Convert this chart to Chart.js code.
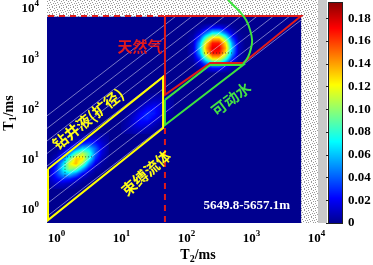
<!DOCTYPE html>
<html>
<head>
<meta charset="utf-8">
<script src="https://cdn.jsdelivr.net/npm/chart.js@4.4.1/dist/chart.umd.min.js"></script>
<style>
  html, body { margin: 0; padding: 0; background: #fff; }
  #wrap { width: 373px; height: 265px; position: relative; }
</style>
</head>
<body>
<div id="wrap"><canvas id="t1t2"></canvas></div>
<script>
// axis limits (ms)
const T2_LIMITS = [0.714, 10500];
const T1_LIMITS = [0.526, 14400];
const DECADES = [1, 10, 100, 1000, 10000];

// colour scale
const CB_TICKS = [0, 0.02, 0.04, 0.06, 0.08, 0.1, 0.12, 0.14, 0.16, 0.18];
const CB_LIMITS = [0, 0.196];
const COLOR_MAX = 0.193;

// extent of the inverted T1-T2 map
const MAP_T2 = [0.714, 5780];
const MAP_T1 = [0.526, 6700];

// amplitude on a log10 grid (step 0.1 decade),
// first row = highest T1, first column = lowest T2
const GRID_STEP = 0.1;
const LOW_PEAK_ORIGIN = [-0.1, 1.5];
const LOW_PEAK = [
  [0, 0, 0, 0, 0, .002, .003, .004, .003, .002],
  [0, 0, 0, 0, .003, .008, .012, .013, .008, .004],
  [0, 0, .001, .005, .014, .027, .034, .027, .014, .005],
  [0, .001, .005, .018, .043, .066, .064, .041, .017, .004],
  [0, .004, .017, .048, .090, .109, .085, .042, .014, .003],
  [.002, .011, .039, .089, .132, .126, .078, .031, .008, .001],
  [.005, .022, .063, .115, .135, .101, .049, .016, .003, 0],
  [.009, .032, .071, .102, .095, .057, .022, .005, .001, 0],
  [.012, .032, .056, .064, .047, .022, .007, .001, 0, 0],
  [.010, .022, .031, .028, .016, .006, .002, 0, 0, 0],
  [.006, .011, .012, .008, .004, .001, 0, 0, 0, 0],
  [.003, .004, .003, .002, 0, 0, 0, 0, 0, 0],
];
const FAINT_ORIGIN = [1.0, 2.3];
const FAINT = [
  [0, 0, 0, 0, .001, .002, .003, .003, .002],
  [0, 0, 0, .001, .004, .007, .008, .006, .003],
  [0, 0, .001, .005, .011, .015, .014, .008, .003],
  [0, .001, .004, .012, .021, .024, .017, .008, .002],
  [.001, .003, .010, .021, .029, .026, .015, .005, .001],
  [.001, .005, .015, .025, .028, .019, .009, .002, 0],
  [.002, .007, .015, .021, .018, .010, .003, .001, 0],
  [.003, .007, .011, .012, .008, .004, .001, 0, 0],
  [.002, .004, .006, .005, .003, .001, 0, 0, 0],
];
const HIGH_PEAK_ORIGIN = [2.0, 3.7];
const HIGH_PEAK = [
  [0, 0, 0, 0, 0, 0, 0, 0, 0, 0],
  [0, 0, .004, .013, .024, .024, .013, .004, 0, 0],
  [0, .002, .014, .043, .071, .071, .043, .014, .002, 0],
  [0, .006, .033, .088, .130, .130, .088, .033, .006, 0],
  [0, .010, .053, .125, .167, .167, .125, .053, .010, 0],
  [0, .011, .061, .138, .176, .176, .138, .061, .011, 0],
  [0, .010, .053, .125, .167, .167, .125, .053, .010, 0],
  [0, .006, .033, .088, .130, .130, .088, .033, .006, 0],
  [0, .002, .014, .043, .071, .071, .043, .014, .002, 0],
  [0, 0, .004, .013, .024, .024, .013, .004, 0, 0],
  [0, 0, 0, 0, 0, 0, 0, 0, 0, 0],
];

// T1/T2 guide lines
const RATIO_LINES = [1, 1.78, 3.16, 5.62, 10, 17.8, 31.6, 56.2, 100];

// fluid zones (T2, T1 in ms)
const YELLOW_T2 = [0.74, 43.5, 43.5, 0.74, 0.74];
const YELLOW_T1 = [6.25, 424, 40.9, 0.6, 6.25];
const GREEN_T2 = [46.5, 230, 740, 46.5, 46.5];
const GREEN_T1 = [148, 735, 735, 47, 148];
const RED_T2 = [46.5, 5780, 740, 230, 46.5, 46.5];
const RED_T1 = [6900, 6900, 800, 800, 186, 6900];
const RED_TOP_DASH_T2 = [0.74, 46.5];
const RED_TOP_DASH_T1 = [6900, 6900];
const RED_CUT_DASH_T2 = [46.5, 46.5];
const RED_CUT_DASH_T1 = [41, 0.526];
const GREEN_CURVE_T2 = [740, 883, 982, 1018, 948, 823, 665, 519, 435];
const GREEN_CURVE_T1 = [760, 1059, 1600, 2307, 3650, 5770, 8320, 11480, 14420];
const LOW_MARK_T2 = [3.52, 1.35, 1.35];
const LOW_MARK_T1 = [10.9, 10.9, 4.14];
const HIGH_MARK_T2 = [500, 179];
const HIGH_MARK_T1 = [1270, 1270];

const DEPTH_LABEL = '5649.8-5657.1m';

const notes = [
  { text: '天然气', t2: 19.3, t1: 1750, angle: 0, color: '#e3191c' },
  { text: '钻井液(扩径)', t2: 3.05, t1: 62, angle: -39, color: '#ffff14' },
  { text: '束缚流体', t2: 23.8, t1: 5.2, angle: -41, color: '#ffff14' },
  { text: '可动水', t2: 484, t1: 155, angle: -37, color: '#44e044' },
];

const serif = (size) => `bold ${size}px "Liberation Serif", "Times New Roman", serif`;
const CJK = 'bold 15px "Noto Sans CJK SC", sans-serif';

function jet(v) {
  const f = 1 / 64 + Math.min(Math.max(v, 0), 1) * 62 / 64;
  const ch = (c) => Math.round(255 * Math.min(Math.max(1.5 - Math.abs(4 * f - c), 0), 1));
  return [ch(3), ch(2), ch(1)];
}
const jetCss = (v) => `rgb(${jet(v).join(',')})`;

function sample(rows, fr, fc) {
  const nr = rows.length;
  const nc = rows[0].length;
  fr = Math.min(Math.max(fr, 0), nr - 1);
  fc = Math.min(Math.max(fc, 0), nc - 1);
  const r0 = Math.min(Math.floor(fr), nr - 2);
  const c0 = Math.min(Math.floor(fc), nc - 2);
  const tr = fr - r0;
  const tc = fc - c0;
  const top = rows[r0][c0] * (1 - tc) + rows[r0][c0 + 1] * tc;
  const bot = rows[r0 + 1][c0] * (1 - tc) + rows[r0 + 1][c0 + 1] * tc;
  return top * (1 - tr) + bot * tr;
}

function drawPatch(ctx, xs, ys, origin, rows) {
  const nr = rows.length;
  const nc = rows[0].length;
  const xa = xs.getPixelForValue(10 ** origin[0]);
  const xb = xs.getPixelForValue(10 ** (origin[0] + (nc - 1) * GRID_STEP));
  const ya = ys.getPixelForValue(10 ** origin[1]);
  const yb = ys.getPixelForValue(10 ** (origin[1] - (nr - 1) * GRID_STEP));
  const px0 = Math.floor(xa);
  const py0 = Math.floor(ya);
  const w = Math.ceil(xb) - px0;
  const h = Math.ceil(yb) - py0;
  const off = document.createElement('canvas');
  off.width = w;
  off.height = h;
  const octx = off.getContext('2d');
  const img = octx.createImageData(w, h);
  for (let j = 0; j < h; j++) {
    const fr = (py0 + j + 0.5 - ya) / (yb - ya) * (nr - 1);
    for (let i = 0; i < w; i++) {
      const fc = (px0 + i + 0.5 - xa) / (xb - xa) * (nc - 1);
      const [r, g, b] = jet(sample(rows, fr, fc) / COLOR_MAX);
      const k = (j * w + i) * 4;
      img.data[k] = r;
      img.data[k + 1] = g;
      img.data[k + 2] = b;
      img.data[k + 3] = 255;
    }
  }
  octx.putImageData(img, 0, 0);
  ctx.drawImage(off, px0, py0);
}

function stipple(ctx) {
  const c = document.createElement('canvas');
  c.width = 7;
  c.height = 7;
  const g = c.getContext('2d');
  g.fillStyle = '#fff';
  g.fillRect(0, 0, 7, 7);
  g.fillStyle = '#9a9a9a';
  [[0, 0], [3, 0], [5, 1], [1, 2], [4, 3], [6, 3], [2, 4], [0, 5], [5, 5], [3, 6]]
    .forEach(([a, b]) => g.fillRect(a, b, 1, 1));
  return ctx.createPattern(c, 'repeat');
}

const mapLayer = {
  id: 'mapLayer',
  beforeDatasetsDraw(chart) {
    const { ctx, chartArea: a, scales } = chart;
    const { x, y, cb } = scales;
    ctx.save();
    // grey strip between axes and colour bar
    ctx.fillStyle = '#c9c9c9';
    ctx.fillRect(a.right, a.top, 9, a.bottom - a.top);

    ctx.fillStyle = stipple(ctx);
    ctx.fillRect(a.left, a.top, a.right - a.left, a.bottom - a.top);

    const mx0 = x.getPixelForValue(MAP_T2[0]);
    const mx1 = x.getPixelForValue(MAP_T2[1]);
    const my0 = y.getPixelForValue(MAP_T1[1]);
    const my1 = y.getPixelForValue(MAP_T1[0]);
    ctx.fillStyle = jetCss(0);
    ctx.fillRect(mx0, my0, mx1 - mx0, my1 - my0);
    drawPatch(ctx, x, y, LOW_PEAK_ORIGIN, LOW_PEAK);
    drawPatch(ctx, x, y, FAINT_ORIGIN, FAINT);
    drawPatch(ctx, x, y, HIGH_PEAK_ORIGIN, HIGH_PEAK);

    // colour bar
    const barLeft = cb.left + 11;
    const top = cb.getPixelForValue(COLOR_MAX);
    const bottom = cb.getPixelForValue(0);
    for (let py = Math.floor(top); py < bottom; py++) {
      ctx.fillStyle = jetCss(cb.getValueForPixel(py + 0.5) / COLOR_MAX);
      ctx.fillRect(barLeft, py, 13, 1);
    }
    ctx.strokeStyle = '#222';
    ctx.lineWidth = 1;
    ctx.strokeRect(barLeft - 0.5, Math.floor(top) - 0.5, 14, bottom - Math.floor(top) + 1);
    ctx.fillStyle = '#222';
    CB_TICKS.forEach((v) => {
      const py = Math.round(cb.getPixelForValue(v));
      ctx.fillRect(barLeft - 3, py, 3, 1);
    });
    ctx.restore();
  },
  afterDatasetsDraw(chart) {
    const { ctx, chartArea: a, scales: { x, y } } = chart;
    ctx.save();
    ctx.beginPath();
    ctx.rect(a.left, a.top, a.right - a.left, a.bottom - a.top);
    ctx.clip();
    ctx.font = CJK;
    ctx.textAlign = 'center';
    ctx.textBaseline = 'middle';
    notes.forEach((n) => {
      ctx.save();
      ctx.translate(x.getPixelForValue(n.t2), y.getPixelForValue(n.t1));
      ctx.rotate(n.angle * Math.PI / 180);
      ctx.fillStyle = n.color;
      ctx.fillText(n.text, 0, 0);
      ctx.restore();
    });
    ctx.font = serif(13);
    ctx.fillStyle = '#fff';
    ctx.textAlign = 'right';
    ctx.fillText(DEPTH_LABEL, x.getPixelForValue(3910), y.getPixelForValue(1.15));
    ctx.restore();
  },
  afterDraw(chart) {
    const { ctx, scales: { x, y } } = chart;
    ctx.save();
    ctx.fillStyle = '#000';
    ctx.textBaseline = 'alphabetic';
    ctx.textAlign = 'left';
    const pow = (exp, px, baseY, centered) => {
      ctx.font = serif(13);
      const wb = ctx.measureText('10').width;
      ctx.font = serif(9);
      const we = ctx.measureText(exp).width;
      const left = centered ? px - (wb + we) / 2 : px - wb - we;
      ctx.font = serif(13);
      ctx.fillText('10', left, baseY);
      ctx.font = serif(9);
      ctx.fillText(exp, left + wb, baseY - 6);
    };
    DECADES.forEach((d) => {
      const e = String(Math.round(Math.log10(d)));
      pow(e, x.getPixelForValue(d), 242, true);
      pow(e, 39, y.getPixelForValue(d) + 4.5, false);
    });

    const title = (sub, cx, baseY) => {
      ctx.font = serif(14);
      const wT = ctx.measureText('T').width;
      const wm = ctx.measureText('/ms').width;
      ctx.font = serif(10);
      const ws = ctx.measureText(sub).width;
      const left = cx - (wT + ws + wm) / 2;
      ctx.font = serif(14);
      ctx.fillText('T', left, baseY);
      ctx.font = serif(10);
      ctx.fillText(sub, left + wT, baseY + 3);
      ctx.font = serif(14);
      ctx.fillText('/ms', left + wT + ws, baseY);
    };
    title('2', 198, 259);
    ctx.translate(13, 113);
    ctx.rotate(-Math.PI / 2);
    title('1', 0, 0);
    ctx.restore();
  },
};

const pts = (t2, t1) => t2.map((v, i) => ({ x: v, y: t1[i] }));
const zone = (t2, t1, color, order, extra = {}) => ({
  data: pts(t2, t1),
  showLine: true,
  borderColor: color,
  borderWidth: 2,
  pointRadius: 0,
  fill: false,
  tension: 0,
  order,
  ...extra,
});

const guideSets = RATIO_LINES.map((r) => {
  const a = Math.max(MAP_T2[0], MAP_T1[0] / r);
  const b = Math.min(MAP_T2[1], MAP_T1[1] / r);
  return zone([a, b], [a * r, b * r], 'rgba(235,235,255,0.5)', 50, { borderWidth: 1 });
}).filter((d) => d.data[0].x < d.data[1].x);

new Chart(document.getElementById('t1t2'), {
  type: 'scatter',
  data: {
    datasets: [
      ...guideSets,
      zone(LOW_MARK_T2, LOW_MARK_T1, 'rgba(30,30,30,0.7)', 40, { borderWidth: 1, borderDash: [1, 2] }),
      zone(HIGH_MARK_T2, HIGH_MARK_T1, 'rgba(30,30,30,0.7)', 40, { borderWidth: 1, borderDash: [1, 2] }),
      zone(RED_TOP_DASH_T2, RED_TOP_DASH_T1, '#e01b1b', 4, { borderDash: [6, 5] }),
      zone(RED_CUT_DASH_T2, RED_CUT_DASH_T1, '#e01b1b', 4, { borderDash: [6, 5] }),
      zone(RED_T2, RED_T1, '#e01b1b', 3),
      zone(GREEN_T2, GREEN_T1, '#3de23d', 2),
      zone(GREEN_CURVE_T2, GREEN_CURVE_T1, '#3de23d', 2, { tension: 0.4 }),
      zone(YELLOW_T2, YELLOW_T1, '#ffff00', 1),
    ],
  },
  options: {
    responsive: true,
    maintainAspectRatio: false,
    animation: false,
    layout: { padding: 0 },
    plugins: { legend: { display: false }, tooltip: { enabled: false } },
    scales: {
      x: {
        type: 'logarithmic',
        min: T2_LIMITS[0],
        max: T2_LIMITS[1],
        bounds: 'data',
        ticks: { display: false },
        grid: { display: false },
        border: { display: false },
        afterFit: (s) => { s.height = 42; s.paddingLeft = 0; s.paddingRight = 0; },
      },
      y: {
        type: 'logarithmic',
        min: T1_LIMITS[0],
        max: T1_LIMITS[1],
        bounds: 'data',
        ticks: { display: false },
        grid: { display: false },
        border: { display: false },
        afterFit: (s) => { s.width = 47; s.paddingTop = 0; s.paddingBottom = 0; },
      },
      cb: {
        type: 'linear',
        position: 'right',
        min: CB_LIMITS[0],
        max: CB_LIMITS[1],
        bounds: 'data',
        grid: { display: false, drawTicks: false, tickLength: 0 },
        border: { display: false },
        afterBuildTicks: (s) => { s.ticks = CB_TICKS.map((v) => ({ value: v })); },
        ticks: {
          padding: 30,
          color: '#000',
          font: { family: '"Liberation Serif", "Times New Roman", serif', size: 13, weight: 'bold' },
          callback: (v) => (v === 0 ? '0' : v.toFixed(2)),
        },
        afterFit: (s) => { s.width = 55; s.paddingTop = 0; s.paddingBottom = 0; },
      },
    },
  },
  plugins: [mapLayer],
});
</script>
</body>
</html>
